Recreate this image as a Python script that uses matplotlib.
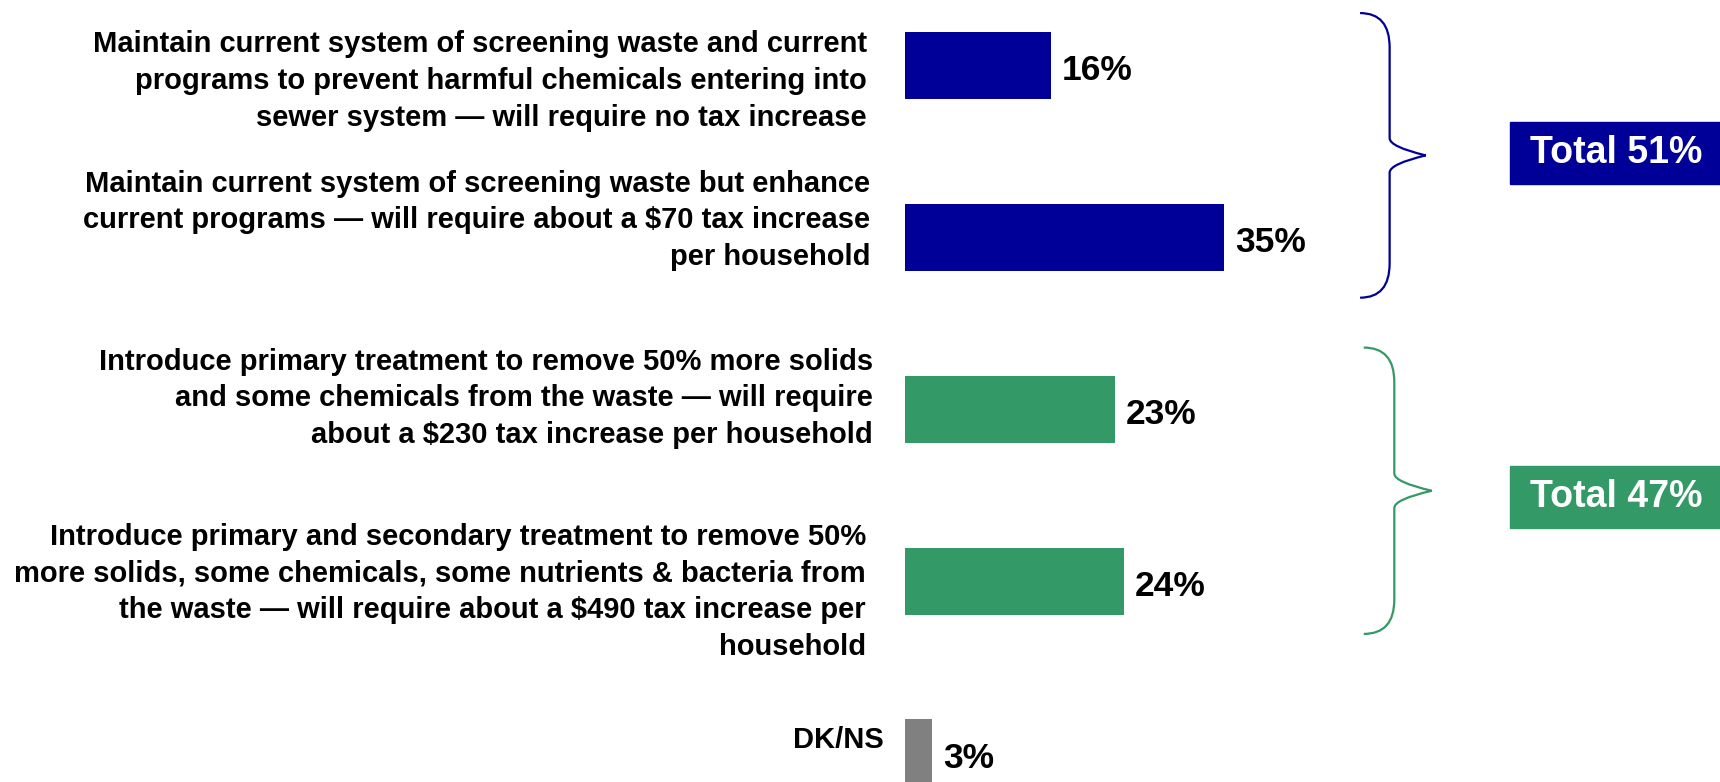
import matplotlib
matplotlib.use("Agg")
import matplotlib.pyplot as plt
from matplotlib.path import Path
from matplotlib.patches import PathPatch, Rectangle

plt.rcParams['font.family'] = ['Liberation Sans', 'DejaVu Sans']

# data
options = [
    "Maintain current system of screening waste and current\n"
    "programs to prevent harmful chemicals entering into\n"
    "sewer system \u2014 will require no tax increase",
    "Maintain current system of screening waste but enhance\n"
    "current programs \u2014 will require about a \\$70 tax increase\n"
    "per household",
    "Introduce primary treatment to remove 50% more solids\n"
    "and some chemicals from the waste \u2014 will require\n"
    "about a \\$230 tax increase per household",
    "Introduce primary and secondary treatment to remove 50%\n"
    "more solids, some chemicals, some nutrients & bacteria from\n"
    "the waste \u2014 will require about a \\$490 tax increase per\n"
    "household",
    "DK/NS",
]
shares = [16, 35, 23, 24, 3]
groups = ["maintain", "maintain", "treat", "treat", "dk"]
group_totals = {"maintain": 51, "treat": 47}

colors = {"maintain": "#000099", "treat": "#339966", "dk": "#808080"}
label_shift = [0.09, -0.10, -0.065, 0.06, -0.08]
label_pad = [38, 35, 32, 39, 21]

fig = plt.figure(figsize=(17.2, 7.82), dpi=100)
ax = fig.add_axes([905 / 1720, 0, 815 / 1720, 1])
ax.set_xlim(0, 815 / 9.12)
ax.set_ylim(4.166, -0.381)
ax.axis("off")

ypos = list(range(len(shares)))
ax.barh(ypos, shares, height=0.395, color=[colors[g] for g in groups])

for y, v, lab, sh, pad in zip(ypos, shares, options, label_shift, label_pad):
    ax.text(v + 1.2, y + 0.03, f"{v}%", fontsize=25.5, fontweight="bold",
            ha="left", va="center")
    ax.annotate(lab, xy=(0, y + sh), xytext=(-pad, 0), textcoords="offset pixels",
                ha="right", va="center", fontsize=21, fontweight="bold",
                linespacing=1.4, annotation_clip=False)


def brace(x0, y0, y1, w, color):
    xm = x0 + w * 0.45
    ym = (y0 + y1) / 2
    c = 0.2
    verts = [(x0, y0), (xm, y0), (xm, y0 + c), (xm, y0 + c * 1.6),
             (xm, ym - c * 0.5), (xm, ym - 0.05), (x0 + w, ym), (x0 + w, ym),
             (xm, ym + 0.05), (xm, ym + c * 0.5), (xm, ym + c * 0.5),
             (xm, y1 - c * 1.6), (xm, y1 - c), (xm, y1), (x0, y1)]
    codes = [Path.MOVETO, Path.CURVE3, Path.CURVE3, Path.LINETO,
             Path.LINETO, Path.CURVE3, Path.CURVE3, Path.MOVETO,
             Path.CURVE3, Path.CURVE3, Path.LINETO,
             Path.LINETO, Path.LINETO, Path.CURVE3, Path.CURVE3]
    ax.add_patch(PathPatch(Path(verts, codes), fc="none", ec=color,
                           lw=1.6, clip_on=False))


brace_spec = {"maintain": (0, 1, 49.9, 0.055, 0.0, 7.2),
              "treat": (2, 3, 50.3, 0.0, -0.045, 7.45)}
for g, (i0, i1, x0, dt, db, w) in brace_spec.items():
    y0, y1 = i0 - 0.36 + dt, i1 + 0.35 + db
    brace(x0, y0, y1, w, colors[g])
    ym = (i0 + i1) / 2 + 0.0
    ax.add_patch(Rectangle((66.3, ym - 0.17), 30, 0.36, color=colors[g], clip_on=False))
    ax.text(78.0, ym + 0.01, f"Total {group_totals[g]}%", color="white", fontsize=27,
            fontweight="bold", ha="center", va="center")

fig.savefig("out.png", dpi=100)
